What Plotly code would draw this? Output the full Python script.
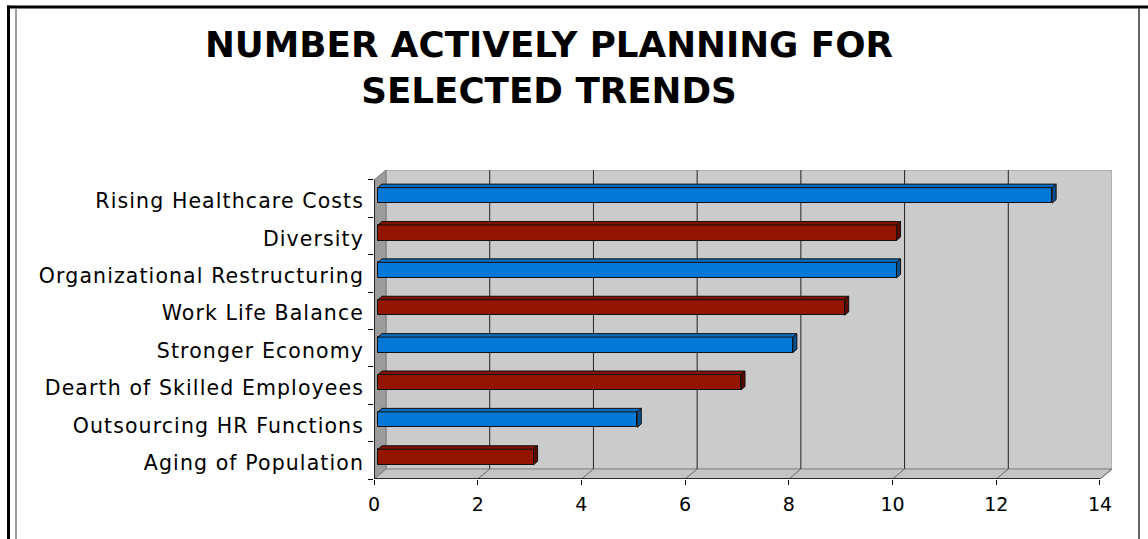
import plotly.graph_objects as go

# Trends, listed top to bottom
categories = [
    "Rising Healthcare Costs",
    "Diversity",
    "Organizational Restructuring",
    "Work Life Balance",
    "Stronger Economy",
    "Dearth of Skilled Employees",
    "Outsourcing HR Functions",
    "Aging of Population",
]
counts = [13, 10, 10, 9, 8, 7, 5, 3]
x_ticks = [0, 2, 4, 6, 8, 10, 12, 14]

W, H = 1148, 539
X0_PX, X14_PX, XR_PX = 374, 1099, 1112      # front origin, front 14, back-right edge
YB_PX, YT_PX = 479, 170                      # front floor, back top
XMAX = 14
NSLOT = len(categories)

SX = (X14_PX - X0_PX) / XMAX                 # px per unit
WALL_DX = 12 / SX                            # depth offset (x) of the back wall
x_range = [0, XMAX + WALL_DX]
WALL_DY = 0.267                              # depth offset (y) in slot units
y_range = [0, NSLOT + WALL_DY]
SY = (YB_PX - YT_PX) / y_range[1]            # px per slot

# bar geometry in the 3-D box
BAR_X = 4 / SX          # bar front plane set back from the front edge
BAR_Y = 3.3 / SY
DEP_X = 4 / SX          # bar depth
DEP_Y = 3.5 / SY
BAR_W = 15.5 / SY
LABEL_DROP = 2.5 / SY   # category labels sit slightly below slot centres

palette = [
    dict(front="#0478d6", top="#0a6cbf", side="#054f8e"),
    dict(front="#931500", top="#7e1100", side="#5a0b00"),
]

fig = go.Figure()

n = len(categories)
ys, fronts = [], []
for k, v in enumerate(counts):
    slot = n - 1 - k
    ys.append(slot + 0.5 + BAR_Y)
    fronts.append(palette[k % 2]["front"])

fig.add_trace(go.Bar(
    x=counts, y=ys, base=BAR_X, orientation="h", width=BAR_W,
    marker=dict(color=fronts, line=dict(color="#111111", width=1)),
    hoverinfo="skip", showlegend=False,
))

# top and end faces of each bar
for k, v in enumerate(counts):
    c = palette[k % 2]
    yc = ys[k]
    yt, yb = yc + BAR_W / 2, yc - BAR_W / 2
    x1 = BAR_X + v
    fig.add_trace(go.Scatter(
        x=[BAR_X, x1, x1 + DEP_X, BAR_X + DEP_X, BAR_X],
        y=[yt, yt, yt + DEP_Y, yt + DEP_Y, yt],
        fill="toself", fillcolor=c["top"], mode="lines",
        line=dict(color="#111111", width=1), hoverinfo="skip", showlegend=False,
    ))
    fig.add_trace(go.Scatter(
        x=[x1, x1 + DEP_X, x1 + DEP_X, x1, x1],
        y=[yb, yb + DEP_Y, yt + DEP_Y, yt, yb],
        fill="toself", fillcolor=c["side"], mode="lines",
        line=dict(color="#111111", width=1), hoverinfo="skip", showlegend=False,
    ))

shapes = []
# back wall
shapes.append(dict(type="rect", xref="x", yref="y", layer="below",
                   x0=WALL_DX, x1=XMAX + WALL_DX, y0=WALL_DY, y1=NSLOT + WALL_DY,
                   fillcolor="#cbcbcb", line=dict(color="#9a9a9a", width=1)))
# floor
shapes.append(dict(type="path", xref="x", yref="y", layer="below",
                   path=f"M0,0 L{XMAX},0 L{XMAX + WALL_DX},{WALL_DY} L{WALL_DX},{WALL_DY} Z",
                   fillcolor="#c4c4c4", line=dict(color="#8a8a8a", width=1)))
# left side wall
shapes.append(dict(type="path", xref="x", yref="y", layer="below",
                   path=f"M0,0 L0,{NSLOT} L{WALL_DX},{NSLOT + WALL_DY} L{WALL_DX},{WALL_DY} Z",
                   fillcolor="#9c9c9c", line=dict(color="#7a7a7a", width=1)))
# gridlines on the back wall and their floor diagonals
for t in x_ticks[1:-1]:
    shapes.append(dict(type="line", xref="x", yref="y", layer="below",
                       x0=t + WALL_DX, x1=t + WALL_DX, y0=WALL_DY, y1=NSLOT + WALL_DY,
                       line=dict(color="#222222", width=1)))
for t in x_ticks[1:]:
    shapes.append(dict(type="line", xref="x", yref="y", layer="below",
                       x0=t, x1=t + WALL_DX, y0=0, y1=WALL_DY,
                       line=dict(color="#6a6a6a", width=1)))
# front axis lines
shapes.append(dict(type="line", xref="x", yref="y", x0=0, x1=XMAX, y0=0, y1=0,
                   line=dict(color="#000000", width=1.5)))
shapes.append(dict(type="line", xref="x", yref="y", x0=0, x1=0, y0=0, y1=NSLOT,
                   line=dict(color="#000000", width=1.5)))


def px(x):
    return x / W


def py(y):
    return 1 - y / H


# outer frame
shapes += [
    dict(type="line", xref="paper", yref="paper", x0=px(7), x1=1.0, y0=py(7), y1=py(7),
         line=dict(color="#000000", width=3)),
    dict(type="line", xref="paper", yref="paper", x0=px(8.5), x1=px(8.5), y0=py(5.5), y1=0,
         line=dict(color="#000000", width=3)),
    dict(type="line", xref="paper", yref="paper", x0=px(16), x1=px(16), y0=py(9), y1=0,
         line=dict(color="#7a7a7a", width=1.5)),
    dict(type="line", xref="paper", yref="paper", x0=px(1139), x1=px(1139), y0=py(8), y1=0,
         line=dict(color="#333333", width=1.5)),
]

font_family = "DejaVu Sans, Verdana, sans-serif"

fig.update_layout(
    template="none",
    width=W, height=H,
    margin=dict(l=0, r=0, t=0, b=0, pad=0),
    paper_bgcolor="#ffffff", plot_bgcolor="rgba(0,0,0,0)",
    shapes=shapes,
    bargap=0,
    showlegend=False,
    xaxis=dict(
        domain=[px(X0_PX), px(XR_PX)], range=x_range, automargin=False,
        tickvals=x_ticks, ticktext=[str(t) for t in x_ticks],
        ticks="outside", ticklen=5, tickcolor="#000000", tickwidth=1,
        ticklabelstandoff=3,
        showgrid=False, zeroline=False, showline=False,
        tickfont=dict(family=font_family, size=19, color="#000000"),
        fixedrange=True,
    ),
    yaxis=dict(
        domain=[py(YB_PX), py(YT_PX)], range=y_range, automargin=False,
        tickvals=[i + 0.5 - LABEL_DROP for i in range(NSLOT)],
        ticktext=list(reversed(categories)),
        ticks="", showgrid=False, zeroline=False, showline=False,
        ticklabelstandoff=9,
        tickfont=dict(family=font_family, size=20.5, color="#000000"),
        fixedrange=True,
    ),
    yaxis2=dict(
        domain=[py(YB_PX), py(YT_PX)], range=y_range, overlaying="y", side="left",
        anchor="x", automargin=False,
        tickvals=list(range(NSLOT + 1)), showticklabels=False,
        ticks="outside", ticklen=5, tickcolor="#000000", tickwidth=1,
        showgrid=False, zeroline=False, showline=False, fixedrange=True,
    ),
    annotations=[dict(
        xref="paper", yref="paper", x=px(549), y=py(67), xanchor="center", yanchor="middle",
        text="<b>NUMBER ACTIVELY PLANNING FOR<br>SELECTED TRENDS</b>",
        showarrow=False, align="center",
        font=dict(family=font_family, size=35.7, color="#000000"),
    )],
)

# invisible trace so the tick-mark axis is drawn
fig.add_trace(go.Scatter(x=[None], y=[None], yaxis="y2", showlegend=False, hoverinfo="skip"))

# category labels are set with a little extra tracking
fig.write_html(
    "out.html",
    post_script="document.querySelectorAll('.ytick text').forEach(function(t){t.style.letterSpacing='1.1px';});",
)
